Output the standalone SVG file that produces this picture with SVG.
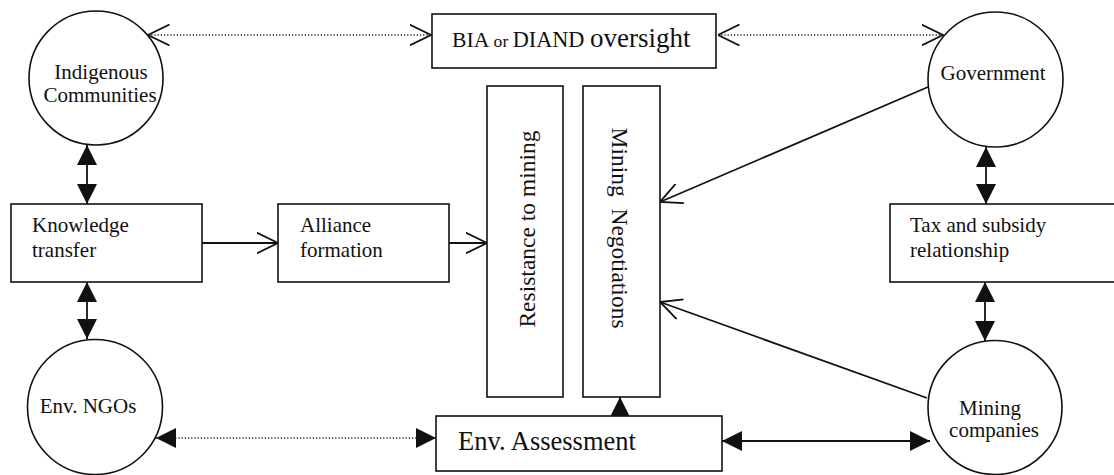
<svg xmlns="http://www.w3.org/2000/svg" width="1114" height="475" viewBox="0 0 1114 475">
  <style>
    .node { fill: #ffffff; stroke: #111111; stroke-width: 1.6; }
    .lbl { font-family: "Liberation Serif", "Times New Roman", serif; font-size: 21px; fill: #111111; }
    .big { font-size: 26.5px; }
    .vert { font-size: 23.5px; white-space: pre; }
    .edge { fill: none; stroke: #111111; stroke-width: 1.8; }
    .dotted { stroke-width: 1.5; stroke-dasharray: 1.2 2; }
  </style>
  <defs>
    <!-- open V-shaped arrowhead -->
    <marker id="open" viewBox="0 0 22 22" refX="21.5" refY="11" markerWidth="22" markerHeight="22" markerUnits="userSpaceOnUse" orient="auto-start-reverse">
      <path d="M0,0.5 L21.5,11 L0,21.5" fill="none" stroke="#111111" stroke-width="1.8"/>
    </marker>
    <!-- solid triangular arrowhead -->
    <marker id="solid" viewBox="0 0 20 20" refX="20" refY="10" markerWidth="20" markerHeight="20" markerUnits="userSpaceOnUse" orient="auto-start-reverse">
      <path d="M0,0 L20,10 L0,20 Z" fill="#111111"/>
    </marker>
  </defs>

  <g id="connectors">
    <line class="edge dotted" x1="148" y1="35" x2="431" y2="35" marker-start="url(#open)" marker-end="url(#open)"/>
    <line class="edge dotted" x1="718" y1="35" x2="943" y2="35" marker-start="url(#open)" marker-end="url(#open)"/>
    <line class="edge" x1="87" y1="145" x2="87" y2="204" marker-start="url(#solid)" marker-end="url(#solid)"/>
    <line class="edge" x1="87" y1="282" x2="87" y2="339" marker-start="url(#solid)" marker-end="url(#solid)"/>
    <line class="edge" x1="202" y1="243" x2="278" y2="243" marker-end="url(#open)"/>
    <line class="edge" x1="449" y1="243" x2="487" y2="243" marker-end="url(#open)"/>
    <line class="edge" x1="928" y1="87" x2="660" y2="202" marker-end="url(#open)"/>
    <line class="edge" x1="927" y1="398" x2="660" y2="302" marker-end="url(#open)"/>
    <line class="edge" x1="986" y1="147" x2="986" y2="204" marker-start="url(#solid)" marker-end="url(#solid)"/>
    <line class="edge" x1="985" y1="282" x2="985" y2="341" marker-start="url(#solid)" marker-end="url(#solid)"/>
    <line class="edge dotted" x1="156" y1="438" x2="436" y2="438" marker-start="url(#solid)" marker-end="url(#solid)"/>
    <line class="edge" x1="722" y1="441" x2="930" y2="441" marker-start="url(#solid)" marker-end="url(#solid)"/>
    <line class="edge" x1="620" y1="416" x2="620" y2="397" marker-end="url(#solid)"/>
  </g>

  <g id="indigenous-communities">
    <circle class="node" cx="96" cy="78" r="67"/>
    <text class="lbl" x="101" y="79" text-anchor="middle">Indigenous</text>
    <text class="lbl" x="100" y="102" text-anchor="middle">Communities</text>
  </g>

  <g id="bia-diand-oversight">
    <rect class="node" x="432" y="14" width="284" height="54"/>
    <text class="lbl" x="452" y="47"><tspan font-size="21.7px">BIA </tspan><tspan font-size="17.6px">or </tspan><tspan font-size="22.3px">DIAND </tspan><tspan font-size="27px">oversight</tspan></text>
  </g>

  <g id="government">
    <circle class="node" cx="995.5" cy="79.5" r="67.5"/>
    <text class="lbl" x="993" y="80" text-anchor="middle">Government</text>
  </g>

  <g id="knowledge-transfer">
    <rect class="node" x="11" y="204" width="191" height="78"/>
    <text class="lbl" x="32" y="232">Knowledge</text>
    <text class="lbl" x="32" y="257">transfer</text>
  </g>

  <g id="alliance-formation">
    <rect class="node" x="278" y="204" width="171" height="78"/>
    <text class="lbl" x="300" y="232">Alliance</text>
    <text class="lbl" x="300" y="257">formation</text>
  </g>

  <g id="resistance-to-mining">
    <rect class="node" x="487" y="86" width="76" height="311"/>
    <text class="lbl vert" transform="translate(535 229) rotate(-90)" text-anchor="middle">Resistance to mining</text>
  </g>

  <g id="mining-negotiations">
    <rect class="node" x="583" y="86" width="77" height="311"/>
    <text class="lbl vert" transform="translate(612 228) rotate(90)" text-anchor="middle">Mining  Negotiations</text>
  </g>

  <g id="tax-and-subsidy">
    <rect class="node" x="890" y="204" width="240" height="78"/>
    <text class="lbl" x="910" y="232">Tax and subsidy</text>
    <text class="lbl" x="910" y="257">relationship</text>
  </g>

  <g id="env-ngos">
    <circle class="node" cx="95" cy="407" r="67.5"/>
    <text class="lbl" x="88" y="413" text-anchor="middle">Env. NGOs</text>
  </g>

  <g id="env-assessment">
    <rect class="node" x="436" y="416" width="286" height="55"/>
    <text class="lbl big" x="458" y="450">Env. Assessment</text>
  </g>

  <g id="mining-companies">
    <circle class="node" cx="995" cy="407.5" r="67"/>
    <text class="lbl" x="990" y="415" text-anchor="middle">Mining</text>
    <text class="lbl" x="994" y="437" text-anchor="middle">companies</text>
  </g>
</svg>
